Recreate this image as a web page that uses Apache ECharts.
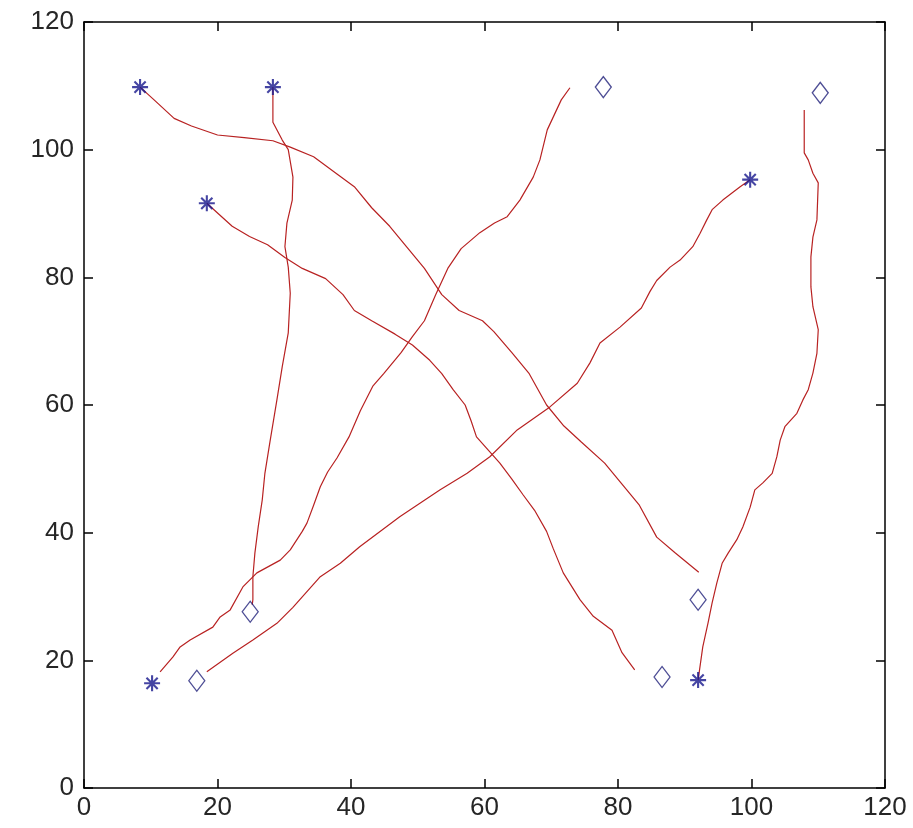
<!DOCTYPE html>
<html>
<head>
<meta charset="utf-8">
<script src="https://cdn.jsdelivr.net/npm/echarts@6/dist/echarts.min.js"></script>
<style>
html,body{margin:0;padding:0;background:#fff;}
#chart{width:913px;height:828px;}
</style>
</head>
<body>
<div id="chart"></div>
<script>
// Axis ticks
const xTicks = [0, 20, 40, 60, 80, 100, 120];
const yTicks = [0, 20, 40, 60, 80, 100, 120];

// Trajectories (red lines)
const pathA = [[8.4,109.8],[10.5,107.8],[13.5,104.9],[16.1,103.7],[20.0,102.3],[24.0,101.9],[28.3,101.4],[30.9,100.4],[34.4,98.9],[37.9,96.2],[40.5,94.2],[43.1,90.9],[45.8,88.0],[48.4,84.7],[51.0,81.4],[53.6,77.3],[56.2,74.8],[59.7,73.2],[61.4,71.5],[64.1,68.2],[66.7,64.9],[69.3,60.0],[71.9,56.7],[74.5,54.2],[78.0,50.9],[80.6,47.6],[83.2,44.3],[85.8,39.3],[88.5,36.9],[92.1,33.8]];
const pathB = [[28.3,109.8],[28.3,104.3],[29.7,101.5],[30.6,100.0],[31.3,95.7],[31.2,92.1],[30.4,88.5],[30.1,84.8],[30.6,81.6],[30.9,77.5],[30.6,71.3],[29.7,66.0],[28.9,60.8],[27.9,54.5],[27.1,49.3],[26.7,45.1],[26.1,40.9],[25.6,36.8],[25.3,33.1],[25.3,29.5],[25.2,28.7]];
const pathC = [[18.4,91.6],[20.5,89.6],[22.2,88.0],[24.8,86.4],[27.5,85.1],[30.1,83.1],[32.7,81.4],[36.2,79.8],[38.8,77.3],[40.5,74.8],[43.1,73.2],[46.6,71.1],[49.2,69.4],[51.8,67.0],[53.6,64.9],[55.3,62.4],[57.1,60.0],[58.0,57.5],[58.8,55.0],[60.6,52.9],[62.3,50.9],[64.1,48.4],[65.8,45.9],[67.5,43.5],[69.3,40.2],[70.3,37.5],[71.8,33.7],[74.3,29.5],[76.3,26.9],[79.1,24.7],[80.6,21.2],[82.5,18.5]];
const pathD = [[11.4,18.2],[13.3,20.5],[14.4,22.1],[15.9,23.2],[19.3,25.2],[20.4,26.8],[21.9,27.9],[23.8,31.5],[25.9,33.7],[29.4,35.7],[30.9,37.3],[32.7,40.2],[33.4,41.5],[34.4,44.3],[35.4,47.2],[36.5,49.5],[37.9,51.7],[39.7,55.0],[41.4,59.1],[43.3,63.0],[44.9,64.9],[47.5,68.2],[49.2,70.7],[51.0,73.2],[52.7,77.3],[54.5,81.4],[56.5,84.5],[59.3,87.0],[61.5,88.5],[63.4,89.5],[65.3,92.1],[67.3,95.7],[68.3,98.4],[69.4,103.1],[71.5,107.8],[72.8,109.7]];
const pathE = [[99.8,95.3],[98.3,94.2],[95.7,92.1],[94.1,90.6],[93.3,89.0],[92.3,86.9],[91.2,84.8],[89.3,82.7],[87.8,81.6],[85.8,79.5],[84.8,77.8],[83.5,75.2],[80.3,72.2],[77.3,69.7],[75.8,66.6],[73.9,63.4],[69.8,59.7],[64.9,56.1],[60.8,51.9],[57.4,49.3],[53.3,46.7],[47.3,42.5],[41.3,37.8],[38.4,35.2],[35.4,33.1],[31.3,28.3],[28.9,25.8],[25.3,23.2],[22.3,21.1],[18.4,18.2]];
const pathF = [[92.0,16.9],[92.7,22.1],[93.5,25.9],[94.1,29.0],[94.8,32.1],[95.6,35.2],[96.5,36.8],[97.8,38.9],[98.7,40.9],[99.8,44.0],[100.5,46.7],[101.7,47.8],[103.1,49.3],[103.8,51.9],[104.3,54.5],[105.0,56.6],[106.8,58.7],[107.7,60.8],[108.5,62.4],[109.2,65.0],[109.8,68.1],[110.0,71.8],[109.2,75.4],[108.9,78.5],[108.9,83.2],[109.2,86.3],[109.8,89.0],[110.0,94.8],[109.2,96.3],[108.5,98.4],[107.9,99.5],[107.9,106.2]];

// Markers
const starPoints = [[8.4,109.8],[28.3,109.8],[18.4,91.6],[10.2,16.4],[99.8,95.3],[92.0,16.9]];
const diamondPoints = [[77.8,109.8],[110.3,108.9],[24.9,27.6],[16.9,16.8],[92.0,29.5],[86.6,17.4]];

const paths = [pathA, pathB, pathC, pathD, pathE, pathF];

const axisColor = '#000';
const labelStyle = {fontSize: 26, color: '#262626', fontFamily: 'Liberation Sans'};

function mkX(pos, showLabel) {
  return {
    type: 'value', min: 0, max: 120, interval: 20, position: pos,
    axisLine: {show: true, onZero: false, lineStyle: {color: axisColor, width: 1.5}},
    axisTick: {show: true, inside: true, length: 9, lineStyle: {color: axisColor, width: 1.5}},
    axisLabel: Object.assign({show: showLabel, margin: 7, showMinLabel: true, showMaxLabel: true,
      hideOverlap: false, formatter: v => xTicks.includes(v) ? String(v) : ''}, labelStyle),
    splitLine: {show: false}
  };
}
function mkY(pos, showLabel) {
  return {
    type: 'value', min: 0, max: 120, interval: 20, position: pos,
    axisLine: {show: true, onZero: false, lineStyle: {color: axisColor, width: 1.5}},
    axisTick: {show: true, inside: true, length: 9, lineStyle: {color: axisColor, width: 1.5}},
    axisLabel: Object.assign({show: showLabel, margin: 10, showMinLabel: true, showMaxLabel: true,
      hideOverlap: false, formatter: v => yTicks.includes(v) ? String(v) : ''}, labelStyle),
    splitLine: {show: false}
  };
}

const series = paths.map(p => ({
  type: 'line', xAxisIndex: 0, yAxisIndex: 0, data: p,
  symbol: 'none', showSymbol: false, smooth: false,
  lineStyle: {color: '#b82222', width: 1.2}, z: 2, silent: true
}));
series.push({
  type: 'scatter', xAxisIndex: 0, yAxisIndex: 0, data: starPoints,
  symbol: 'path://M10,0L10,20M0,10L20,10M3,3L17,17M3,17L17,3',
  symbolSize: 16,
  itemStyle: {color: 'rgba(0,0,0,0)', borderColor: '#16168c', borderWidth: 2.1},
  z: 5, silent: true
});
series.push({
  type: 'scatter', xAxisIndex: 0, yAxisIndex: 0, data: diamondPoints,
  symbol: 'diamond', symbolSize: [16, 21],
  itemStyle: {color: 'rgba(0,0,0,0)', borderColor: '#22227a', borderWidth: 1.3},
  z: 5, silent: true
});

const chart = echarts.init(document.getElementById('chart'), null, {renderer: 'canvas'});
chart.setOption({
  animation: false,
  backgroundColor: '#fff',
  grid: {left: 84, right: 28, top: 22, bottom: 40, containLabel: false},
  xAxis: [mkX('bottom', true), mkX('top', false)],
  yAxis: [mkY('left', true), mkY('right', false)],
  series: series
});
</script>
</body>
</html>
